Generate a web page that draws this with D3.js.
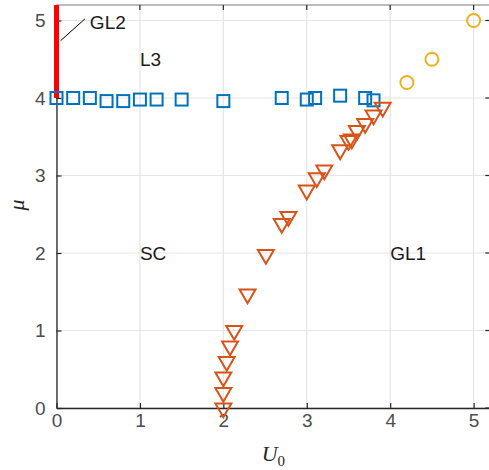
<!DOCTYPE html>
<html>
<head>
<meta charset="utf-8">
<script src="https://cdn.jsdelivr.net/npm/d3@7/dist/d3.min.js"></script>
<style>
  html, body { margin: 0; padding: 0; background: #fff; }
  svg { display: block; }
</style>
</head>
<body>
<svg id="chart" width="489" height="470"></svg>
<script>
// Phase boundary data (U0, mu)
const l3U  = [0, 0.2, 0.4, 0.6, 0.8, 1.0, 1.2, 1.5, 2.0, 2.7, 3.0, 3.1, 3.4, 3.7, 3.8];
const l3Mu = [4.0, 4.0, 4.0, 3.96, 3.96, 3.98, 3.98, 3.98, 3.96, 4.0, 3.98, 4.0, 4.03, 4.0, 3.97];

const scU  = [2.0, 2.0, 2.0, 2.04, 2.08, 2.13, 2.29, 2.51, 2.70, 2.78, 3.0, 3.12, 3.21, 3.40, 3.50, 3.54, 3.60, 3.70, 3.80, 3.91];
const scMu = [0.0, 0.2, 0.4, 0.6, 0.8, 1.0, 1.47, 1.98, 2.38, 2.47, 2.81, 2.97, 3.07, 3.33, 3.45, 3.47, 3.58, 3.67, 3.78, 3.88];

const gl1U  = [4.2, 4.5, 5.0];
const gl1Mu = [4.2, 4.5, 5.0];

// GL2 segment at U0 = 0
const gl2U  = [0, 0];
const gl2Mu = [4.0, 5.2];

const xTicks = [0, 1, 2, 3, 4, 5];
const yTicks = [0, 1, 2, 3, 4, 5];

const regionLabels = [
  { text: "L3",  u: 1.0,  mu: 4.5 },
  { text: "SC",  u: 1.0,  mu: 2.0 },
  { text: "GL1", u: 4.0,  mu: 2.0 }
];

const svg = d3.select("#chart");
const margin = { left: 56.5, top: 5, right: -1.3, bottom: 62 };
const W = 489, H = 470;
const x = d3.scaleLinear().domain([0, 5.2]).range([margin.left, W - margin.right]);
const y = d3.scaleLinear().domain([0, 5.2]).range([H - margin.bottom, margin.top]);

const axisColor = "#262626";
const tickColor = "#4d4d4d";
const font = "'Liberation Sans', Arial, Helvetica, sans-serif";

// grid
const grid = svg.append("g");
grid.selectAll("line.gx").data(xTicks).join("line")
  .attr("x1", d => x(d)).attr("x2", d => x(d))
  .attr("y1", y(0)).attr("y2", y(5.2))
  .attr("stroke", "#e5e5e5").attr("stroke-width", 1.2);
grid.selectAll("line.gy").data(yTicks).join("line")
  .attr("y1", d => y(d)).attr("y2", d => y(d))
  .attr("x1", x(0)).attr("x2", x(5.2))
  .attr("stroke", "#e5e5e5").attr("stroke-width", 1.2);

// top/right box lines
svg.append("line").attr("x1", x(0)).attr("x2", x(5.2)).attr("y1", y(5.2)).attr("y2", y(5.2))
  .attr("stroke", "#777").attr("stroke-width", 1.2);
svg.append("line").attr("x1", x(5.2)).attr("x2", x(5.2)).attr("y1", y(0)).attr("y2", y(5.2))
  .attr("stroke", "#777").attr("stroke-width", 1.2);
// inward ticks on top/right
svg.append("g").selectAll("line").data(xTicks).join("line")
  .attr("x1", d => x(d)).attr("x2", d => x(d))
  .attr("y1", y(5.2)).attr("y2", y(5.2) + 5)
  .attr("stroke", axisColor).attr("stroke-width", 1.2);
svg.append("g").selectAll("line").data(yTicks).join("line")
  .attr("y1", d => y(d)).attr("y2", d => y(d))
  .attr("x1", x(5.2)).attr("x2", x(5.2) - 5)
  .attr("stroke", axisColor).attr("stroke-width", 1.2);

// axes
const xAxis = d3.axisBottom(x).tickValues(xTicks).tickFormat(d3.format("d"))
  .tickSizeInner(-5).tickSizeOuter(0).tickPadding(6);
const yAxis = d3.axisLeft(y).tickValues(yTicks).tickFormat(d3.format("d"))
  .tickSizeInner(-5).tickSizeOuter(0).tickPadding(11);

const gx = svg.append("g").attr("transform", `translate(0,${y(0)})`).call(xAxis);
const gy = svg.append("g").attr("transform", `translate(${x(0)},0)`).call(yAxis);
[gx, gy].forEach(g => {
  g.select(".domain").attr("stroke", axisColor).attr("stroke-width", 1.3);
  g.selectAll(".tick line").attr("stroke", axisColor).attr("stroke-width", 1.2);
  g.selectAll(".tick text").attr("fill", tickColor).style("font-family", font).style("font-size", "19px");
});

// GL2 red segment
svg.append("line")
  .attr("x1", x(gl2U[0])).attr("x2", x(gl2U[1]))
  .attr("y1", y(gl2Mu[0])).attr("y2", y(gl2Mu[1]))
  .attr("stroke", "#ff0000").attr("stroke-width", 5);

// L3 boundary: squares
const sq = 12;
svg.append("g").selectAll("rect").data(l3U.map((u, i) => [u, l3Mu[i]])).join("rect")
  .attr("x", d => x(d[0]) - sq / 2).attr("y", d => y(d[1]) - sq / 2)
  .attr("width", sq).attr("height", sq)
  .attr("fill", "none").attr("stroke", "#0072BD").attr("stroke-width", 2);

// SC boundary: downward triangles
const tri = d3.symbol().type(d3.symbolTriangle).size(110);
svg.append("g").selectAll("path").data(scU.map((u, i) => [u, scMu[i]])).join("path")
  .attr("d", tri)
  .attr("transform", d => `translate(${x(d[0])},${y(d[1])}) rotate(180)`)
  .attr("fill", "none").attr("stroke", "#D95319").attr("stroke-width", 2);

// GL1 boundary: circles
svg.append("g").selectAll("circle").data(gl1U.map((u, i) => [u, gl1Mu[i]])).join("circle")
  .attr("cx", d => x(d[0])).attr("cy", d => y(d[1])).attr("r", 6.5)
  .attr("fill", "none").attr("stroke", "#EDB120").attr("stroke-width", 2);

// region labels
svg.append("g").selectAll("text").data(regionLabels).join("text")
  .attr("x", d => x(d.u)).attr("y", d => y(d.mu))
  .attr("dy", "0.35em")
  .attr("fill", "#1a1a1a").style("font-family", font).style("font-size", "19px")
  .text(d => d.text);

// GL2 annotation
svg.append("line")
  .attr("x1", x(0.05)).attr("y1", y(4.74))
  .attr("x2", x(0.34)).attr("y2", y(5.02))
  .attr("stroke", "#000").attr("stroke-width", 1);
svg.append("text")
  .attr("x", x(0.4)).attr("y", y(4.98)).attr("dy", "0.35em")
  .attr("fill", "#1a1a1a").style("font-family", font).style("font-size", "19px")
  .text("GL2");

// axis labels
const xl = svg.append("text")
  .attr("x", x(2.6)).attr("y", 461)
  .attr("text-anchor", "middle")
  .attr("fill", "#262626")
  .style("font-family", "'Liberation Serif', 'Times New Roman', serif")
  .style("font-size", "22px").style("font-style", "italic");
xl.append("tspan").text("U");
xl.append("tspan").attr("dy", 5).style("font-size", "15px").style("font-style", "normal").text("0");

svg.append("text")
  .attr("transform", `translate(24,${y(2.62)}) rotate(-90)`)
  .attr("text-anchor", "middle")
  .attr("fill", "#262626")
  .style("font-family", "'Liberation Serif', 'Times New Roman', serif")
  .style("font-size", "22px").style("font-style", "italic")
  .text("μ");
</script>
</body>
</html>
